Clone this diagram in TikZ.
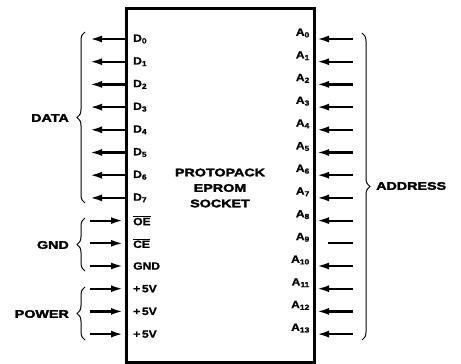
\documentclass[tikz,border=0pt]{standalone}
\usepackage{fontspec}
\setmainfont{Liberation Sans}
\newfontfamily\heavyfont[FakeStretch=1.3,FakeBold=2.5]{Liberation Sans}
\newfontfamily\pinfont[FakeStretch=1.15,FakeBold=1]{Liberation Sans}
\usetikzlibrary{arrows.meta, decorations.pathreplacing}
\newcommand{\pinbar}[1]{$\overline{\mbox{#1}}$}
\tikzset{
    % socket outline
    socket/.style={
        rectangle,
        draw=black,
        line width=3pt,
        minimum width=188pt,
        minimum height=354pt,
        inner sep=0pt
    },
    title/.style={
        align=center,
        inner sep=1pt,
        font=\heavyfont\bfseries\fontsize{11}{15.5}\selectfont
    },
    pinlabel/.style={
        inner sep=1pt,
        font=\pinfont\bfseries\fontsize{10.5}{12}\selectfont
    },
    group/.style={
        inner sep=1pt,
        font=\heavyfont\bfseries\fontsize{11}{13}\selectfont
    },
    % signal lines
    sig/.style={
        -{Latex[length=12pt,width=7pt]},
        line width=2.2pt,
        draw=black
    },
    wire/.style={
        line width=2.2pt,
        draw=black
    },
    brace/.style={
        decorate,
        decoration={brace, amplitude=8pt},
        line width=1pt
    }
}
\begin{document}
\begin{tikzpicture}[x=1pt, y=-1pt]
    \useasboundingbox (0,0) rectangle (461,364);

    \node[socket] (sock) at (220,185) {};
    \node[title] (name) at (220,188) {PROTOPACK\\EPROM\\SOCKET};

    % data outputs
    \foreach \i in {0,...,7}{
        \coordinate (dx\i) at (90,{39+22.7*\i});
        \node[pinlabel, anchor=west] (d\i) at (132,{39+22.7*\i}) {D\textsubscript{\i}};
        \draw[sig] (sock.west |- dx\i) -- (dx\i);
    }

    % control and supply inputs
    \foreach \n/\txt [count=\k from 8] in {oe/\pinbar{OE}, ce/\pinbar{CE}, gnd/GND, vcca/+\,5V, vccb/+\,5V, vccc/+\,5V}{
        \coordinate (\n x) at (90,{39+22.7*\k});
        \node[pinlabel, anchor=west] (\n) at (132,{39+22.7*\k}) {\txt};
        \draw[sig, shorten >=1.5pt] (\n x) -- (sock.west |- \n x);
    }

    % address inputs
    \foreach \i in {0,...,13}{
        \coordinate (ax\i) at (353,{39+22.7*\i});
        \node[pinlabel, anchor=east] (a\i) at (311,{33+22.7*\i}) {A\textsubscript{\i}};
    }
    \foreach \i in {0,...,8,10,11,12,13}{
        \draw[sig, shorten >=1.5pt] (ax\i) -- (sock.east |- ax\i);
    }
    \draw[wire, shorten >=12pt] (ax9) -- (sock.east |- ax9);

    % groups
    \draw[brace] (85,203) -- (85,32);
    \node[group, anchor=east] (data) at (70,118) {DATA};
    \draw[brace] (85,271) -- (85,218);
    \node[group, anchor=east] (gndgrp) at (70,245) {GND};
    \draw[brace] (85,340) -- (85,287);
    \node[group, anchor=east] (power) at (70,314) {POWER};
    \draw[brace] (362,33) -- (362,340);
    \node[group, anchor=west] (address) at (375,186) {ADDRESS};
\end{tikzpicture}
\end{document}
